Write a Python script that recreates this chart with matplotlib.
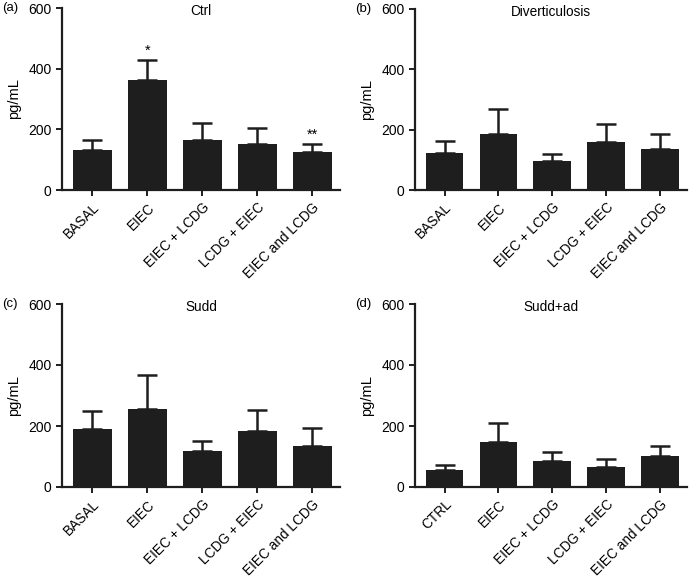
import numpy as np
import matplotlib.pyplot as plt

plt.rcParams['font.family'] = ['Liberation Sans', 'DejaVu Sans']
plt.rcParams['font.size'] = 9.5

groups = ["BASAL", "EIEC", "EIEC + LCDG", "LCDG + EIEC", "EIEC and LCDG"]
groups_d = ["CTRL", "EIEC", "EIEC + LCDG", "LCDG + EIEC", "EIEC and LCDG"]

ctrl_mean = [133, 361, 164, 153, 126]
ctrl_err = [33, 69, 58, 50, 26]
div_mean = [122, 186, 95, 160, 137]
div_err = [41, 83, 23, 58, 47]
sudd_mean = [191, 257, 118, 185, 135]
sudd_err = [58, 111, 34, 68, 60]
suddad_mean = [55, 147, 85, 67, 101]
suddad_err = [16, 62, 30, 24, 33]

titles = ["Ctrl", "Diverticulosis", "Sudd", "Sudd+ad"]
letters = ["(a)", "(b)", "(c)", "(d)"]
ctrl_stars = ["", "*", "", "", "**"]

W, H = 694, 577
fig = plt.figure(figsize=(W / 100, H / 100), dpi=100)

# axes boxes in pixels: left, right, top, bottom
boxes = [(62, 340, 8, 190), (415, 687, 9, 190), (62, 340, 304, 487), (415, 687, 304, 487)]
panels = [
    (groups, ctrl_mean, ctrl_err),
    (groups, div_mean, div_err),
    (groups, sudd_mean, sudd_err),
    (groups_d, suddad_mean, suddad_err),
]

bar_col = "#1e1e1e"
for i, (labels, mean, err) in enumerate(panels):
    l, r, t, b = boxes[i]
    ax = fig.add_axes([l / W, 1 - b / H, (r - l) / W, (b - t) / H])
    x = np.arange(len(labels))
    ax.bar(x, mean, width=0.7, color=bar_col, zorder=2)
    ax.errorbar(x, mean, yerr=[np.zeros(len(mean)), err], fmt="none",
                ecolor=bar_col, elinewidth=1.8, capsize=7, capthick=1.8, zorder=1)
    ax.set_xlim(-0.55, 4.5)
    ax.set_ylim(0, 600)
    ax.set_yticks([0, 200, 400, 600])
    ax.set_xticks(x)
    ax.set_xticklabels(labels, rotation=45, ha="right", rotation_mode="anchor")
    for s in ["top", "right"]:
        ax.spines[s].set_visible(False)
    for s in ["left", "bottom"]:
        ax.spines[s].set_linewidth(1.6)
        ax.spines[s].set_color(bar_col)
    ax.tick_params(width=1.4, length=4, color=bar_col)
    ax.tick_params(axis="x", labelsize=9.8)
    ax.tick_params(axis="y", labelsize=10)
    ax.set_ylabel("pg/mL", fontsize=10.5, labelpad=5)
    ax.set_title(titles[i], fontsize=9.8, pad=-7, y=1.0, va="bottom")
    fig.text((l - 60) / W, 1 - t / H, letters[i], fontsize=9.5, va="center", ha="left")
    if i == 0:
        for xi, m, e, s in zip(x, mean, err, ctrl_stars):
            if s:
                ax.text(xi, m + e + 6, s, ha="center", va="bottom", fontsize=10.5)

plt.savefig("out.png", dpi=100)
